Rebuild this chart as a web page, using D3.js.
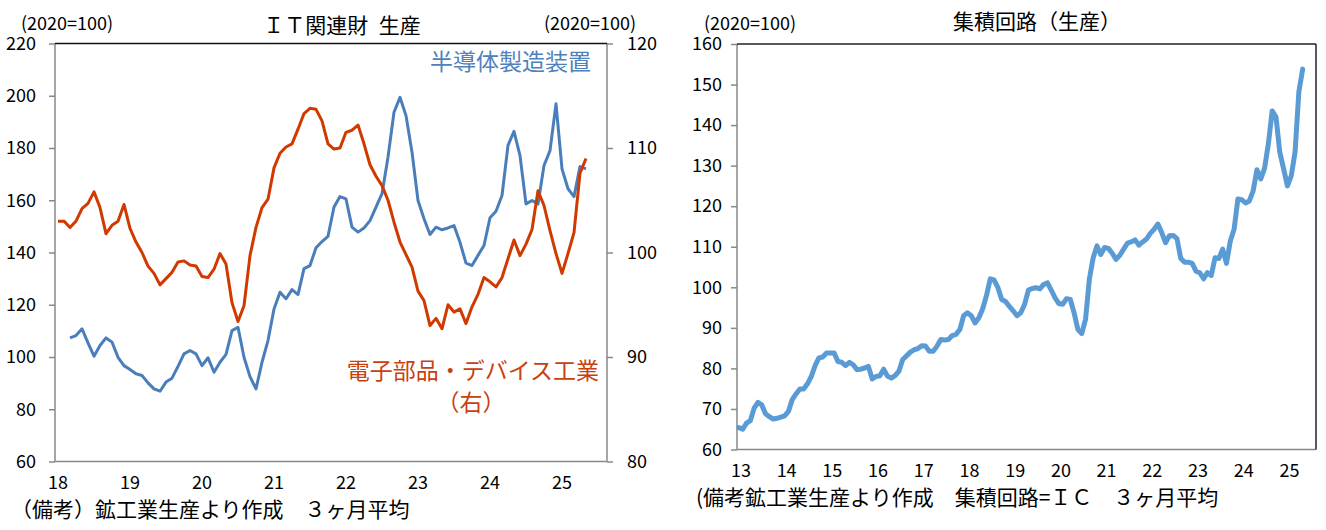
<!DOCTYPE html>
<html><head><meta charset="utf-8">
<script src="https://cdn.jsdelivr.net/npm/d3@7"></script>
<style>
body{margin:0;background:#fff;}
svg text{font-family:"Noto Sans CJK JP","Noto Sans",sans-serif;}
</style></head>
<body><svg id="c" width="1326" height="530"></svg>
<script>
// ---------- DATA ----------
// Left chart: IT-related goods production (2020=100), 3-month average, monthly Jan 2018 - May 2025
const leftYearLabels = ["18","19","20","21","22","23","24","25"];
const leftMonthCount = 92; // category slots on the axis (Jan 2018 .. Aug 2025)
const leftTicks = [60,80,100,120,140,160,180,200,220];
const rightAxisTicks = [80,90,100,110,120];
const semiEquip = [null,null,107.3,108.2,110.8,105.4,100.3,104.4,107.3,105.7,99.9,96.7,
  95.2,93.6,92.9,90.1,87.8,86.9,90.4,91.9,96.4,101.2,102.5,101.2,
  96.7,99.7,94.2,98.0,101.0,110.1,111.4,99.9,92.5,87.8,98.0,106.3,
  118.4,124.8,122.3,125.8,123.9,133.8,135.0,141.8,144.2,146.2,157.4,161.4,
  160.5,149.7,147.8,149.4,152.2,157.4,162.5,176.5,193.7,199.4,192.4,178.4,
  159.9,152.9,146.9,149.7,148.7,149.4,150.3,143.9,135.9,135.0,138.9,142.7,
  153.3,155.8,161.8,181.0,186.4,177.1,158.6,159.9,158.6,173.3,179.0,196.9,
  172.0,164.4,161.4,172.9,172.0];
const elecParts = [103.0,103.0,102.4,103.0,104.2,104.7,105.8,104.3,101.8,102.6,103.0,104.6,
  102.3,101.0,100.0,98.7,98.0,96.9,97.5,98.1,99.1,99.2,98.8,98.7,
  97.7,97.6,98.4,99.9,98.9,95.2,93.4,94.9,99.7,102.4,104.3,105.1,
  108.1,109.5,110.1,110.4,111.8,113.3,113.8,113.7,112.6,110.4,109.9,110.0,
  111.5,111.7,112.2,110.4,108.4,107.3,106.4,105.0,102.9,101.0,99.8,98.6,
  96.3,95.4,93.0,93.7,92.7,95.0,94.3,94.6,93.2,94.8,96.0,97.6,
  97.2,96.7,97.6,99.4,101.2,99.7,100.8,102.2,105.9,104.5,102.1,99.9,
  98.0,99.9,101.9,107.6,109.0];

// Right chart: integrated circuits production (2020=100), 3-month average, Jan 2013 - May 2025
const rightYearLabels = ["13","14","15","16","17","18","19","20","21","22","23","24","25"];
const rightMonthCount = 152; // Jan 2013 .. Aug 2025
const icTicks = [60,70,80,90,100,110,120,130,140,150,160];
const icProd = [65.4,65.0,66.5,67.1,70.2,71.6,71.0,68.8,68.1,67.5,67.7,68.0,
  68.3,69.4,72.3,73.7,74.9,74.9,76.2,78.0,80.7,82.6,82.8,83.8,
  83.8,83.8,81.7,81.5,80.7,81.5,80.9,79.7,79.8,80.1,80.5,77.4,
  78.0,78.2,79.8,78.1,77.6,78.2,79.3,82.2,83.1,84.0,84.6,84.9,
  85.6,85.5,84.2,84.2,85.5,87.1,87.0,87.1,88.1,88.4,89.6,93.0,
  93.7,93.0,91.2,92.5,94.7,98.0,102.1,101.8,99.9,97.0,96.5,95.3,
  94.2,93.0,93.7,95.8,99.3,99.7,99.9,99.6,100.7,101.1,99.3,97.4,
  96.0,95.8,97.2,97.0,93.7,89.6,88.6,92.1,102.0,107.3,110.2,108.1,
  109.8,109.6,108.4,106.9,107.9,109.4,110.9,111.2,111.7,110.4,111.2,111.9,
  113.3,114.3,115.6,113.5,111.0,112.7,112.8,112.0,107.1,106.2,106.2,105.9,
  104.0,103.6,102.1,103.6,102.9,107.3,107.1,109.4,105.9,111.4,114.3,121.8,
  121.6,120.8,121.3,123.8,129.0,126.7,129.4,135.4,143.5,142.0,133.3,129.2,
  125.0,127.5,133.3,148.2,153.8];

// ---------- DRAW ----------
const svg = d3.select("#c");
const AXIS = "#888888";

function styleAxis(g){
  g.select(".domain").remove();
  g.selectAll(".tick line").attr("stroke", AXIS).attr("stroke-width", 1.5);
  g.selectAll(".tick text").attr("fill", "#000").style("font-size", "18px");
}

// ===== Left chart =====
{
  const x0 = 55, x1 = 607, yT = 43.5, yB = 461.5;
  const xs = d3.scaleBand().domain(d3.range(leftMonthCount)).range([x0, x1]);
  const xc = i => xs(i) + xs.bandwidth() / 2;
  const yL = d3.scaleLinear().domain([60, 220]).range([yB, yT]);
  const yR = d3.scaleLinear().domain([80, 120]).range([yB, yT]);

  svg.append("g").attr("transform", `translate(${x0},0)`)
    .call(d3.axisLeft(yL).tickValues(leftTicks).tickSize(6).tickPadding(13).tickSizeOuter(0))
    .call(styleAxis);
  svg.append("g").attr("transform", `translate(${x1},0)`)
    .call(d3.axisRight(yR).tickValues(rightAxisTicks).tickSize(6).tickPadding(14).tickSizeOuter(0))
    .call(styleAxis);
  const xa = svg.append("g").attr("transform", `translate(0,${yB})`)
    .call(d3.axisBottom(xs).tickValues(leftYearLabels.map((d, k) => k * 12))
      .tickFormat((d) => leftYearLabels[d / 12]).tickSize(0).tickPadding(15));
  xa.select(".domain").remove();
  xa.selectAll(".tick").attr("transform", d => `translate(${xc(d)},0)`);
  xa.selectAll(".tick text").attr("fill", "#000").style("font-size", "18px");

  // frame
  svg.append("line").attr("x1", x0).attr("x2", x0).attr("y1", yT).attr("y2", yB).attr("stroke", AXIS).attr("stroke-width", 1.5);
  svg.append("line").attr("x1", x1).attr("x2", x1).attr("y1", yT).attr("y2", yB).attr("stroke", AXIS).attr("stroke-width", 1.5);
  svg.append("line").attr("x1", x0).attr("x2", x1).attr("y1", yB).attr("y2", yB).attr("stroke", AXIS).attr("stroke-width", 1.5);
  svg.append("line").attr("x1", x0).attr("x2", x1).attr("y1", yT).attr("y2", yT).attr("stroke", "#111").attr("stroke-width", 1.5);

  const lineL = d3.line().defined(d => d != null).x((d, i) => xc(i)).y(d => yL(d));
  const lineR = d3.line().defined(d => d != null).x((d, i) => xc(i)).y(d => yR(d));
  svg.append("path").datum(semiEquip).attr("d", lineL).attr("fill", "none")
    .attr("stroke", "#4a7ebb").attr("stroke-width", 3).attr("stroke-linejoin", "round");
  svg.append("path").datum(elecParts).attr("d", lineR).attr("fill", "none")
    .attr("stroke", "#d03a00").attr("stroke-width", 3).attr("stroke-linejoin", "round");

  svg.append("text").attr("x", 21).attr("y", 30).style("font-size", "18px").text("(2020=100)");
  svg.append("text").attr("x", 636).attr("y", 30).attr("text-anchor", "end").style("font-size", "18px").text("(2020=100)");
  svg.append("text").attr("x", 342).attr("y", 33).attr("text-anchor", "middle").style("font-size", "21px").text("ＩＴ関連財\u2002生産");
  svg.append("text").attr("x", 591).attr("y", 70).attr("text-anchor", "end").attr("fill", "#4f81bd").style("font-size", "23px").text("半導体製造装置");
  svg.append("text").attr("x", 599).attr("y", 379).attr("text-anchor", "end").attr("fill", "#c9400f").style("font-size", "23px").text("電子部品・デバイス工業");
  svg.append("text").attr("x", 471).attr("y", 411).attr("text-anchor", "middle").attr("fill", "#c9400f").style("font-size", "23px").text("（右）");
  svg.append("text").attr("x", 11).attr("y", 517).style("font-size", "21px").text("（備考）鉱工業生産より作成　３ヶ月平均");
}

// ===== Right chart =====
{
  const x0 = 737, x1 = 1316, yT = 44, yB = 449.5;
  const xs = d3.scaleBand().domain(d3.range(rightMonthCount)).range([x0, x1]);
  const xc = i => xs(i) + xs.bandwidth() / 2;
  const y = d3.scaleLinear().domain([60, 160]).range([yB, yT]);

  svg.append("g").attr("transform", `translate(${x0},0)`)
    .call(d3.axisLeft(y).tickValues(icTicks).tickSize(6).tickPadding(9).tickSizeOuter(0))
    .call(styleAxis);
  const xa = svg.append("g").attr("transform", `translate(0,${yB})`)
    .call(d3.axisBottom(xs).tickValues(rightYearLabels.map((d, k) => k * 12))
      .tickFormat((d) => rightYearLabels[d / 12]).tickSize(0).tickPadding(15));
  xa.select(".domain").remove();
  xa.selectAll(".tick").attr("transform", d => `translate(${xc(d) + 2},0)`);
  xa.selectAll(".tick text").attr("fill", "#000").style("font-size", "18px");

  svg.append("line").attr("x1", x0).attr("x2", x0).attr("y1", yT).attr("y2", yB).attr("stroke", AXIS).attr("stroke-width", 1.5);
  svg.append("line").attr("x1", x0).attr("x2", x1).attr("y1", yB).attr("y2", yB).attr("stroke", AXIS).attr("stroke-width", 1.5);
  svg.append("line").attr("x1", x0).attr("x2", x1).attr("y1", yT).attr("y2", yT).attr("stroke", "#222").attr("stroke-width", 1.5);
  svg.append("line").attr("x1", x1).attr("x2", x1).attr("y1", yT).attr("y2", yB).attr("stroke", "#222").attr("stroke-width", 1.5);

  const line = d3.line().x((d, i) => xc(i)).y(d => y(d));
  svg.append("path").datum(icProd).attr("d", line).attr("fill", "none")
    .attr("stroke", "#5b9bd5").attr("stroke-width", 5).attr("stroke-linejoin", "round").attr("stroke-linecap", "round");

  svg.append("text").attr("x", 704).attr("y", 30).style("font-size", "18px").text("(2020=100)");
  svg.append("text").attr("x", 1037).attr("y", 29).attr("text-anchor", "middle").style("font-size", "21px").text("集積回路（生産）");
  svg.append("text").attr("x", 696).attr("y", 505).style("font-size", "21px").text("(備考鉱工業生産より作成　集積回路=ＩＣ　３ヶ月平均");
}
</script></body></html>
